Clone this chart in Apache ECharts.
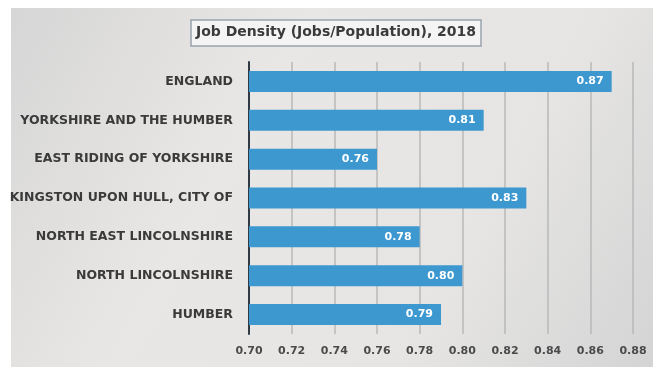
<!DOCTYPE html>
<html>
<head>
<meta charset="utf-8">
<script src="https://cdn.jsdelivr.net/npm/echarts@6/dist/echarts.min.js"></script>
<style>
  html, body { margin: 0; padding: 0; background: #ffffff; }
  #chart { width: 653px; height: 367px; }
</style>
</head>
<body>
<div id="chart"></div>
<script>
// Job density by area, 2018
const titleText = 'Job Density (Jobs/Population), 2018';
const areas = [
  'ENGLAND',
  'YORKSHIRE AND THE HUMBER',
  'EAST RIDING OF YORKSHIRE',
  'KINGSTON UPON HULL, CITY OF',
  'NORTH EAST LINCOLNSHIRE',
  'NORTH LINCOLNSHIRE',
  'HUMBER'
];
const density = [0.87, 0.81, 0.76, 0.83, 0.78, 0.80, 0.79];
const axisMin = 0.70;
const axisMax = 0.88;
const axisStep = 0.02;

const FONT = '"DejaVu Sans", "Liberation Sans", sans-serif';
const chart = echarts.init(document.getElementById('chart'), null, { renderer: 'canvas' });

chart.setOption({
  backgroundColor: '#ffffff',
  animation: false,
  graphic: [
    {
      type: 'rect',
      z: -10,
      silent: true,
      shape: { x: 11, y: 8, width: 642, height: 359 },
      style: {
        fill: {
          type: 'linear', x: 0, y: 0, x2: 1, y2: 1,
          colorStops: [
            { offset: 0, color: '#d6d6d6' },
            { offset: 0.35, color: '#e9e7e5' },
            { offset: 0.7, color: '#e6e5e4' },
            { offset: 1, color: '#d4d4d4' }
          ]
        }
      }
    },
    {
      type: 'rect',
      z: 10,
      silent: true,
      shape: { x: 191, y: 20, width: 290, height: 26 },
      style: { fill: '#f4f4f4', stroke: '#9aa3ad', lineWidth: 1.5 }
    },
    {
      type: 'text',
      z: 11,
      silent: true,
      left: 196,
      top: 25,
      style: {
        text: titleText,
        fill: '#3a3a3a',
        font: 'bold 14px ' + FONT
      }
    }
  ],
  grid: { left: 249, right: 20, top: 62, bottom: 33, containLabel: false },
  xAxis: {
    type: 'value',
    min: axisMin,
    max: axisMax,
    interval: axisStep,
    axisLine: { show: false },
    axisTick: { show: false },
    axisLabel: {
      color: '#4a4a4a',
      fontSize: 11,
      fontWeight: 'bold',
      fontFamily: FONT,
      margin: 12,
      formatter: v => v.toFixed(2)
    },
    splitLine: { show: true, lineStyle: { color: '#b8b8b8', width: 1.5 } }
  },
  yAxis: {
    type: 'category',
    data: areas,
    inverse: true,
    axisLine: { show: true, lineStyle: { color: '#2f3a45', width: 2 } },
    axisTick: { show: false },
    axisLabel: {
      color: '#3a3a3a',
      fontSize: 12.5,
      fontWeight: 'bold',
      fontFamily: FONT,
      margin: 16
    }
  },
  series: [
    {
      type: 'bar',
      data: density,
      barWidth: '54%',
      itemStyle: { color: '#3d98d0' },
      label: {
        show: true,
        position: 'insideRight',
        distance: 8,
        color: '#ffffff',
        fontSize: 11,
        fontWeight: 'bold',
        fontFamily: FONT,
        formatter: p => p.value.toFixed(2)
      }
    }
  ]
});
</script>
</body>
</html>
